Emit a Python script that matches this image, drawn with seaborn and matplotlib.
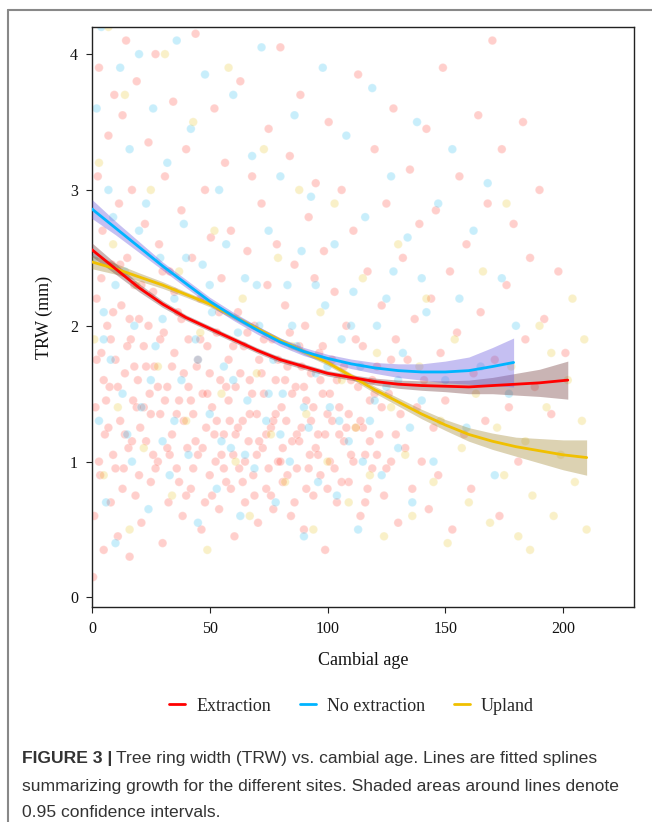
import matplotlib
matplotlib.use("Agg")
import matplotlib.pyplot as plt
from matplotlib.lines import Line2D
import seaborn as sns
import pandas as pd

# site names and colours
sites = ["Extraction", "No extraction", "Upland"]
point_colors = {"Extraction": "#ff3a2a", "No extraction": "#1ab8f0", "Upland": "#e8c41a"}
line_colors = {"Extraction": "#ff0000", "No extraction": "#00b4ff", "Upland": "#f0c000"}
band_colors = {"Extraction": "#7a4545", "No extraction": "#7060e0", "Upland": "#a89040"}

# raw rings (cambial age, TRW mm), read roughly off the cloud
ext_pts = [
    (0.5, 0.15), (1, 0.6), (1.5, 1.4), (2, 2.2), (2.5, 3.1), (3, 3.9), (3.5, 0.9), (4, 1.8), (4.5, 2.7), (5, 0.35),
    (5.5, 1.2), (6, 4.25), (6.5, 2.0), (7, 3.4), (7.5, 1.55), (8, 0.7), (8.5, 2.45), (9, 1.05), (9.5, 3.7), (10, 1.75),
    (11, 0.45), (11.5, 2.9), (12, 1.3), (12.5, 2.15), (13, 3.55), (13.5, 0.95), (14, 1.65), (14.5, 4.1), (15, 2.5), (15.5, 1.1),
    (16, 0.3), (16.5, 1.9), (17, 3.0), (17.5, 1.45), (18, 2.3), (18.5, 0.75), (19, 3.8), (19.5, 1.6), (20, 2.05), (20.5, 1.25),
    (21, 0.55), (22, 1.85), (22.5, 2.75), (23, 1.15), (24, 3.35), (24.5, 1.5), (25, 0.85), (26, 2.25), (26.5, 1.7), (27, 4.0),
    (28, 1.0), (28.5, 2.6), (29, 1.35), (30, 0.4), (30.5, 1.95), (31, 3.1), (32, 1.55), (32.5, 0.7), (33, 2.4), (34, 1.2),
    (34.5, 3.65), (35, 1.8), (36, 0.95), (36.5, 2.1), (37, 1.45), (38, 2.85), (38.5, 0.6), (39, 1.65), (40, 3.3), (40.5, 1.1),
    (41, 1.9), (42, 0.8), (42.5, 2.5), (43, 1.35), (44, 4.15), (44.5, 1.7), (45, 1.05), (46, 2.2), (46.5, 0.5), (47, 1.5),
    (48, 3.0), (48.5, 1.25), (49, 1.85), (50, 0.9), (50.5, 2.65), (51, 1.4), (52, 3.6), (52.5, 1.0), (53, 1.95), (54, 0.65),
    (54.5, 1.6), (55, 2.35), (56, 1.2), (56.5, 3.2), (57, 0.85), (58, 1.75), (58.5, 1.3), (59, 2.7), (60, 1.05), (60.5, 0.45),
    (61, 1.55), (62, 2.1), (62.5, 0.95), (63, 3.8), (64, 1.3), (64.5, 1.85), (65, 0.7), (66, 2.55), (66.5, 1.15), (67, 1.6),
    (68, 3.1), (68.5, 0.9), (69, 2.0), (70, 1.35), (70.5, 0.55), (71, 1.75), (72, 2.9), (72.5, 1.1), (73, 1.5), (74, 0.8),
    (74.5, 2.3), (75, 3.45), (76, 1.25), (76.5, 1.9), (77, 0.65), (78, 1.6), (78.5, 2.6), (79, 1.0), (80, 4.05), (80.5, 1.4),
    (81, 0.85), (82, 2.15), (82.5, 1.3), (83, 1.7), (84, 3.25), (84.5, 0.6), (85, 1.15), (86, 2.45), (86.5, 1.55), (87, 0.95),
    (88, 1.85), (88.5, 3.7), (89, 1.25), (90, 0.5), (90.5, 2.0), (91, 1.45), (92, 2.8), (92.5, 1.05), (93, 1.65), (94, 0.75),
    (94.5, 2.35), (95, 3.05), (96, 1.2), (96.5, 1.8), (97, 0.9), (98, 1.5), (98.5, 2.55), (99, 0.35), (100, 1.35), (100.5, 3.5),
    (101, 1.0), (102, 1.75), (103, 2.25), (104, 0.7), (105, 1.4), (106, 3.0), (107, 1.15), (108, 2.0), (109, 0.85), (110, 1.6),
    (111, 2.7), (112, 1.25), (113, 3.85), (114, 0.6), (115, 1.85), (116, 1.05), (117, 2.4), (118, 1.45), (119, 0.95), (120, 3.3),
    (121, 1.7), (122, 1.2), (123, 2.15), (124, 0.75), (125, 2.9), (126, 1.5), (127, 1.0), (128, 3.6), (129, 1.9), (130, 0.55),
    (131, 1.35), (132, 2.5), (133, 1.1), (134, 1.75), (135, 3.15), (136, 0.8), (137, 2.05), (138, 1.4), (139, 2.75), (140, 1.0),
    (141, 1.6), (142, 3.45), (143, 0.65), (144, 2.2), (145, 1.25), (146, 2.85), (147, 0.9), (148, 1.8), (149, 3.9), (150, 1.45),
    (152, 2.4), (153, 0.5), (155, 1.95), (156, 3.1), (158, 1.2), (159, 2.6), (161, 0.8), (162, 1.65), (164, 3.55), (165, 2.1),
    (167, 1.3), (168, 2.9), (170, 4.1), (171, 1.75), (173, 0.6), (174, 3.3), (176, 2.3), (177, 1.4), (179, 2.75), (181, 1.0),
    (183, 3.5), (184, 1.9), (186, 2.5), (188, 1.55), (190, 3.0), (192, 2.05), (195, 1.35), (198, 2.4), (201, 1.8),
    # dense core of the cloud
    (3, 1.0), (5, 1.6), (7, 1.25), (9, 2.1), (11, 1.55), (13, 0.8), (15, 1.85), (17, 1.15), (19, 1.4), (21, 2.3),
    (23, 1.7), (25, 1.35), (27, 0.95), (29, 1.9), (31, 1.45), (33, 1.05), (35, 2.25), (37, 0.85), (39, 1.3), (41, 1.55),
    (43, 0.95), (45, 1.75), (47, 1.1), (49, 1.5), (51, 0.75), (53, 1.3), (55, 1.05), (57, 1.55), (59, 0.8), (61, 1.2),
    (63, 1.65), (65, 1.0), (67, 1.35), (69, 0.75), (71, 1.15), (73, 1.9), (75, 0.95), (77, 1.3), (79, 1.75), (81, 1.1),
    (83, 0.9), (85, 1.5), (87, 1.2), (89, 1.7), (91, 0.8), (93, 1.3), (95, 1.1), (97, 1.6), (99, 1.2), (101, 1.5),
    (103, 0.95), (105, 1.2), (107, 1.7), (109, 1.35), (111, 1.0), (113, 1.55), (115, 1.25), (117, 0.8), (119, 1.6), (121, 1.05),
    (123, 1.4), (125, 0.95), (127, 1.75), (129, 1.2),
    (2, 1.75), (4, 2.35), (6, 1.45), (8, 1.9), (10, 0.95), (12, 2.45), (14, 1.2), (16, 2.05), (18, 1.7), (20, 0.9),
    (22, 1.4), (24, 2.0), (26, 1.05), (28, 1.55), (30, 2.4), (32, 1.1), (34, 1.7), (36, 1.35), (38, 2.05), (40, 0.75),
    (42, 1.45), (44, 1.15), (46, 1.9), (48, 0.7), (50, 1.65), (52, 1.2), (54, 2.1), (56, 0.95), (58, 1.45), (60, 1.85),
    (62, 1.25), (64, 0.85), (66, 1.95), (68, 1.5), (70, 1.05), (72, 1.65), (74, 1.2), (76, 0.75), (78, 1.35), (80, 1.0),
    (82, 1.6), (84, 1.95), (86, 0.7), (88, 1.15), (90, 1.55), (92, 0.95), (94, 1.4), (96, 1.05), (98, 1.85), (100, 0.8),
    (102, 1.3), (104, 1.6), (106, 0.85), (108, 1.25), (110, 1.05), (112, 1.9), (114, 1.3), (116, 0.7), (118, 1.15), (120, 1.5),
]
noext_pts = [
    (1, 2.5), (2, 3.6), (3, 1.3), (4, 4.2), (5, 2.1), (6, 0.7), (7, 3.0), (8, 1.75), (9, 2.8), (10, 0.4),
    (12, 3.9), (13, 1.5), (14, 2.4), (16, 3.3), (17, 1.0), (18, 2.0), (20, 4.0), (21, 1.4), (23, 2.9), (24, 0.65),
    (26, 3.6), (27, 1.85), (29, 2.5), (30, 1.15), (32, 3.2), (33, 0.9), (35, 2.2), (36, 4.1), (38, 1.6), (39, 2.75),
    (41, 1.05), (42, 3.45), (44, 1.9), (45, 0.55), (47, 2.45), (48, 3.85), (50, 1.35), (51, 2.1), (53, 0.8), (54, 3.0),
    (56, 1.7), (57, 2.6), (59, 1.1), (60, 3.7), (62, 1.95), (63, 0.6), (65, 2.35), (66, 1.45), (68, 3.25), (69, 0.95),
    (71, 2.0), (72, 4.05), (74, 1.3), (75, 2.7), (77, 1.75), (78, 0.7), (80, 3.1), (81, 1.5), (83, 2.3), (84, 1.0),
    (86, 3.55), (87, 1.85), (89, 2.55), (90, 0.45), (92, 1.25), (93, 2.95), (95, 1.65), (96, 0.85), (98, 3.9), (99, 2.15),
    (101, 1.4), (103, 2.6), (104, 0.75), (106, 1.9), (108, 3.4), (109, 1.15), (111, 2.25), (113, 0.5), (114, 1.7), (116, 2.8),
    (118, 1.3), (119, 3.75), (121, 2.0), (123, 0.9), (125, 1.55), (127, 3.1), (128, 2.4), (130, 1.1), (132, 1.8), (134, 2.65),
    (136, 0.7), (138, 3.5), (140, 1.45), (142, 2.1), (145, 1.0), (147, 2.9), (150, 1.6), (153, 3.3), (156, 2.2), (159, 1.25),
    (162, 2.7), (165, 1.7), (168, 3.05), (171, 0.9), (174, 2.35), (177, 1.5), (180, 2.0),
    (5, 1.9), (10, 2.3), (15, 1.2), (20, 2.7), (25, 1.6), (30, 2.05), (35, 1.3), (40, 2.5), (45, 1.75), (50, 2.3),
    (55, 1.15), (60, 1.6), (65, 1.05), (70, 2.3), (75, 1.5), (80, 1.2), (85, 2.0), (90, 1.4), (95, 2.3), (100, 1.7),
    (105, 1.3), (110, 2.0), (115, 1.0), (120, 1.45), (125, 2.2), (130, 1.6), (135, 1.25), (140, 2.35),
]
upland_pts = [
    (1, 1.9), (3, 3.2), (5, 0.9), (7, 4.2), (9, 2.6), (11, 1.4), (14, 3.7), (16, 0.5), (19, 2.3), (22, 1.1),
    (25, 3.0), (28, 1.7), (31, 4.0), (34, 0.75), (37, 2.4), (40, 1.3), (43, 3.5), (46, 1.95), (49, 0.35), (52, 2.7),
    (55, 1.5), (58, 3.9), (61, 1.0), (64, 2.2), (67, 0.6), (70, 1.65), (73, 3.3), (76, 1.2), (79, 2.5), (82, 0.85),
    (85, 1.85), (88, 3.0), (91, 1.35), (94, 0.5), (97, 2.1), (100, 1.0), (103, 2.9), (106, 1.6), (109, 0.7), (112, 1.25),
    (115, 2.35), (118, 0.9), (121, 1.8), (124, 0.45), (127, 1.4), (130, 2.6), (133, 1.05), (136, 0.6), (139, 1.7), (142, 2.2),
    (145, 0.85), (148, 1.3), (151, 0.4), (154, 1.9), (157, 1.1), (160, 0.7), (163, 1.5), (166, 2.4), (169, 0.55), (172, 1.25),
    (175, 0.9), (178, 1.7), (181, 0.45), (184, 1.15), (187, 0.75), (190, 2.0), (193, 1.4), (196, 0.6), (199, 1.05), (202, 1.6),
    (205, 0.85), (208, 1.3), (210, 0.5), (176, 2.9), (186, 0.35), (195, 1.8), (204, 2.2), (209, 1.9),
]

# fitted splines with 0.95 CI half-widths
ext_fit_age = [0, 10, 20, 30, 40, 50, 60, 70, 80, 90, 100, 110, 120, 130, 140, 150, 160, 170, 180, 190, 202]
ext_fit = [2.56, 2.42, 2.28, 2.16, 2.06, 1.98, 1.90, 1.82, 1.75, 1.70, 1.65, 1.62, 1.59, 1.57, 1.56, 1.555, 1.55, 1.56, 1.57, 1.58, 1.60]
ext_ci = [0.05, 0.04, 0.03, 0.025, 0.02, 0.02, 0.02, 0.02, 0.02, 0.02, 0.02, 0.02, 0.025, 0.03, 0.035, 0.04, 0.05, 0.06, 0.08, 0.10, 0.14]

noext_fit_age = [0, 10, 20, 30, 40, 50, 60, 70, 80, 90, 100, 110, 120, 130, 140, 150, 160, 170, 179]
noext_fit = [2.86, 2.72, 2.58, 2.44, 2.31, 2.18, 2.07, 1.97, 1.88, 1.81, 1.76, 1.72, 1.69, 1.67, 1.66, 1.66, 1.67, 1.70, 1.73]
noext_ci = [0.07, 0.05, 0.04, 0.03, 0.03, 0.03, 0.03, 0.03, 0.03, 0.03, 0.03, 0.035, 0.04, 0.05, 0.06, 0.08, 0.10, 0.14, 0.18]

upland_fit_age = [0, 10, 20, 30, 40, 50, 60, 70, 80, 90, 100, 110, 120, 130, 140, 150, 160, 170, 180, 190, 200, 210]
upland_fit = [2.47, 2.42, 2.36, 2.30, 2.23, 2.16, 2.07, 1.98, 1.89, 1.81, 1.73, 1.63, 1.53, 1.44, 1.35, 1.27, 1.20, 1.15, 1.11, 1.08, 1.05, 1.03]
upland_ci = [0.05, 0.04, 0.03, 0.025, 0.02, 0.02, 0.02, 0.02, 0.02, 0.02, 0.02, 0.02, 0.025, 0.03, 0.035, 0.04, 0.05, 0.06, 0.07, 0.09, 0.11, 0.13]

points = pd.concat([
    pd.DataFrame(ext_pts, columns=["age", "trw"]).assign(site="Extraction"),
    pd.DataFrame(noext_pts, columns=["age", "trw"]).assign(site="No extraction"),
    pd.DataFrame(upland_pts, columns=["age", "trw"]).assign(site="Upland"),
])
fits = {
    "Extraction": (ext_fit_age, ext_fit, ext_ci),
    "No extraction": (noext_fit_age, noext_fit, noext_ci),
    "Upland": (upland_fit_age, upland_fit, upland_ci),
}

sns.set_style("white")
plt.rcParams["font.family"] = ["Liberation Serif", "DejaVu Serif"]

fig = plt.figure(figsize=(6.52, 8.22), dpi=100)
ax = fig.add_axes([0.141, 0.2616, 0.831, 0.7056])

sns.scatterplot(data=points, x="age", y="trw", hue="site", palette=point_colors,
                hue_order=["Upland", "No extraction", "Extraction"],
                s=38, alpha=0.24, linewidth=0.8, legend=False, ax=ax)

for site in ["Upland", "Extraction", "No extraction"]:
    age, fit, ci = fits[site]
    lo = [f - c for f, c in zip(fit, ci)]
    hi = [f + c for f, c in zip(fit, ci)]
    ax.fill_between(age, lo, hi, color=band_colors[site], alpha=0.4, linewidth=0, zorder=3)
for site in ["Upland", "Extraction", "No extraction"]:
    age, fit, ci = fits[site]
    sns.lineplot(x=age, y=fit, color=line_colors[site], linewidth=2.0, ax=ax, zorder=4)

ax.set_xlim(0, 230)
ax.set_ylim(-0.07, 4.2)
ax.set_xticks([0, 50, 100, 150, 200])
ax.set_yticks([0, 1, 2, 3, 4])
ax.tick_params(axis="both", which="both", direction="out", length=4, width=0.8,
               color="#222222", labelsize=11.5, labelcolor="#111111", bottom=True, left=True, pad=6)
for sp in ax.spines.values():
    sp.set_color("#222222")
    sp.set_linewidth(1.0)
ax.set_xlabel("Cambial age", fontsize=13, color="#111111", labelpad=11)
ax.set_ylabel("TRW (mm)", fontsize=13, color="#111111", labelpad=12)

handles = [Line2D([0], [0], color=line_colors[s], linewidth=2.0) for s in sites]
fig.legend(handles, sites, loc="center", bbox_to_anchor=(0.539, 0.141), ncol=3, frameon=False,
           fontsize=13, handlelength=0.9, handletextpad=0.6, columnspacing=1.6)

# page frame lines
fig.add_artist(Line2D([8 / 652, 1], [1 - 10 / 822, 1 - 10 / 822], color="#888888", linewidth=1.5))
fig.add_artist(Line2D([8 / 652, 8 / 652], [0, 1 - 10 / 822], color="#888888", linewidth=1.5))

cap_font = ["Liberation Sans", "DejaVu Sans"]
cap_kw = dict(fontsize=12.6, color="#333333", family=cap_font, va="center", ha="left")
x0 = 22 / 652
t = fig.text(x0, 1 - 758 / 822, "FIGURE 3 |", fontweight="bold", **cap_kw)
fig.canvas.draw()
bb = t.get_window_extent()
fig.text(bb.x1 / fig.bbox.width + 0.006, 1 - 758 / 822,
         "Tree ring width (TRW) vs. cambial age. Lines are fitted splines", **cap_kw)
fig.text(x0, 1 - 786 / 822, "summarizing growth for the different sites. Shaded areas around lines denote", **cap_kw)
fig.text(x0, 1 - 812 / 822, "0.95 confidence intervals.", **cap_kw)

fig.savefig("out.png", dpi=100)
